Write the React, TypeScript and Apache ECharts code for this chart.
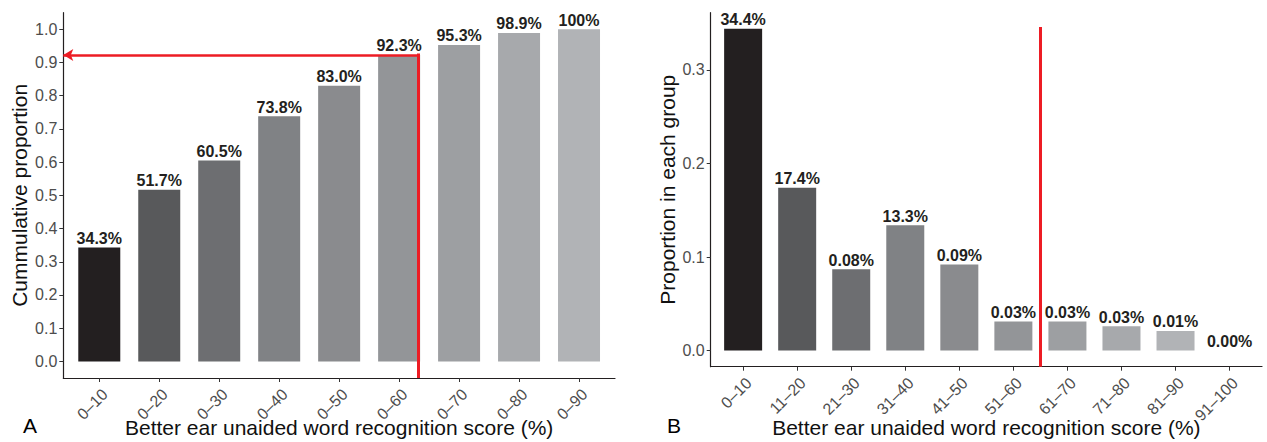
import React, { useEffect, useRef } from 'react';
import * as echarts from 'echarts';

// Panel A: cumulative proportion
const cumCategories = ['0–10', '0–20', '0–30', '0–40', '0–50', '0–60', '0–70', '0–80', '0–90'];
const cumValues = [0.343, 0.517, 0.605, 0.738, 0.83, 0.923, 0.953, 0.989, 1.0];
const cumLabels = ['34.3%', '51.7%', '60.5%', '73.8%', '83.0%', '92.3%', '95.3%', '98.9%', '100%'];
const cumTicks = [0, 0.1, 0.2, 0.3, 0.4, 0.5, 0.6, 0.7, 0.8, 0.9, 1.0];
const cumThreshold = 0.923;
const cumCut = 5.32;

// Panel B: proportion in each group
const grpCategories = ['0–10', '11–20', '21–30', '31–40', '41–50', '51–60', '61–70', '71–80', '81–90', '91–100'];
const grpValues = [0.344, 0.174, 0.087, 0.134, 0.092, 0.031, 0.031, 0.026, 0.021, 0];
const grpLabels = ['34.4%', '17.4%', '0.08%', '13.3%', '0.09%', '0.03%', '0.03%', '0.03%', '0.01%', '0.00%'];
const grpTicks = [0, 0.1, 0.2, 0.3];
const grpCut = 5.49;

const barColors = ['#231f20', '#58595b', '#6d6e71', '#808285', '#8a8b8e', '#939598', '#9d9fa2', '#a7a9ac', '#b1b3b6', '#bcbec0'];

const FONT = "'Liberation Sans', Arial, Helvetica, sans-serif";
const RED = '#ed1c24';
const AXIS = '#231f20';
const TICKTXT = '#4d4d4d';

function idx(n: number) {
  return Array.from({ length: n }, (_, i) => i);
}

export default function App() {
  const ref = useRef<HTMLDivElement>(null);
  useEffect(() => {
    if (!ref.current) return;
    const chart = echarts.init(ref.current, null, { renderer: 'svg' });
    const cumMin = -0.05 * (cumValues[cumValues.length - 1]);
    const cumMax = 1.05 * cumValues[cumValues.length - 1];
    const gMax = Math.max(...grpValues);
    const grpMin = -0.05 * gMax;
    const grpMax = 1.05 * gMax;

    const xAxisCommon = (cats: string[], gap: number) => ({
      type: 'value',
      min: -0.6,
      max: cats.length - 1 + 0.6,
      axisLine: { show: true, onZero: false, lineStyle: { color: AXIS, width: 1.2 } },
      axisTick: { show: true, customValues: idx(cats.length), length: 4, lineStyle: { color: '#333', width: 1 } },
      axisLabel: {
        show: true,
        customValues: idx(cats.length),
        rotate: 45,
        margin: 8,
        align: 'right',
        verticalAlign: 'top',
        color: TICKTXT,
        fontSize: 16,
        fontFamily: FONT,
        formatter: (v: number) => cats[Math.round(v)] ?? '',
      },
      splitLine: { show: false },
      name: 'Better ear unaided word recognition score (%)',
      nameLocation: 'middle',
      nameGap: gap,
      nameMoveOverlap: false,
      nameTextStyle: { color: '#111', fontSize: 21, fontFamily: FONT },
    });

    const yAxisCommon = (ticks: number[], min: number, max: number, name: string, gap: number) => ({
      type: 'value',
      min,
      max,
      axisLine: { show: true, onZero: false, lineStyle: { color: AXIS, width: 1.2 } },
      axisTick: { show: true, customValues: ticks, length: 4, lineStyle: { color: '#333', width: 1 } },
      axisLabel: {
        show: true,
        customValues: ticks,
        margin: 6,
        color: TICKTXT,
        fontSize: 16,
        fontFamily: FONT,
        formatter: (v: number) => v.toFixed(1),
      },
      splitLine: { show: false },
      name,
      nameLocation: 'middle',
      nameGap: gap,
      nameTextStyle: { color: '#111', fontSize: 21, fontFamily: FONT },
    });

    const barLabel = (labels: string[]) => ({
      show: true,
      position: 'top',
      distance: 1,
      color: '#231f20',
      fontWeight: 'bold',
      fontSize: 16,
      fontFamily: FONT,
      formatter: (p: any) => labels[p.dataIndex],
    });

    chart.setOption({
      animation: false,
      grid: [
        { left: 63.3, top: 12.7, width: 551.7, height: 365.3, outerBoundsMode: 'none', containLabel: false },
        { left: 710.7, top: 12.7, width: 551.3, height: 354, outerBoundsMode: 'none', containLabel: false },
      ],
      xAxis: [
        { ...xAxisCommon(cumCategories, 39), gridIndex: 0 },
        { ...xAxisCommon(grpCategories, 50), gridIndex: 1 },
      ],
      yAxis: [
        { ...yAxisCommon(cumTicks, cumMin, cumMax, 'Cummulative proportion', 33), gridIndex: 0 },
        { ...yAxisCommon(grpTicks, grpMin, grpMax, 'Proportion in each group', 33), gridIndex: 1 },
      ],
      series: [
        {
          type: 'bar',
          xAxisIndex: 0,
          yAxisIndex: 0,
          barWidth: 42,
          data: cumValues.map((v, i) => ({ value: [i, v], itemStyle: { color: barColors[i] } })),
          label: barLabel(cumLabels),
          markLine: {
            silent: true,
            animation: false,
            symbol: ['none', 'none'],
            label: { show: false },
            data: [
              [
                { coord: [cumCut, cumThreshold], symbol: 'none', lineStyle: { color: RED, width: 2.5, type: 'solid' } },
                { coord: [-0.6, cumThreshold], symbol: 'arrow', symbolSize: [9, 10], lineStyle: { color: RED, width: 2.5, type: 'solid' } },
              ],
              [
                { coord: [cumCut, cumThreshold + 0.004], symbol: 'none', lineStyle: { color: RED, width: 3, type: 'solid' } },
                { coord: [cumCut, cumMin], symbol: 'none', lineStyle: { color: RED, width: 3, type: 'solid' } },
              ],
            ],
          },
        },
        {
          type: 'bar',
          xAxisIndex: 1,
          yAxisIndex: 1,
          barWidth: 38,
          data: grpValues.map((v, i) => ({ value: [i, v], itemStyle: { color: barColors[i] } })),
          label: barLabel(grpLabels),
          markLine: {
            silent: true,
            animation: false,
            symbol: ['none', 'none'],
            label: { show: false },
            lineStyle: { color: RED, width: 3, type: 'solid' },
            data: [
              [
                { coord: [grpCut, 0.3458] },
                { coord: [grpCut, grpMin] },
              ],
            ],
          },
        },
      ],
      graphic: [
        { type: 'text', left: 23, top: 415, style: { text: 'A', fontSize: 21, fontFamily: FONT, fill: '#000' } },
        { type: 'text', left: 667, top: 415, style: { text: 'B', fontSize: 21, fontFamily: FONT, fill: '#000' } },
      ],
    });
    return () => chart.dispose();
  }, []);
  return (
    <div
      ref={ref}
      style={{ position: 'fixed', left: 0, top: 0, width: 1267, height: 442, background: '#fff' }}
    />
  );
}
